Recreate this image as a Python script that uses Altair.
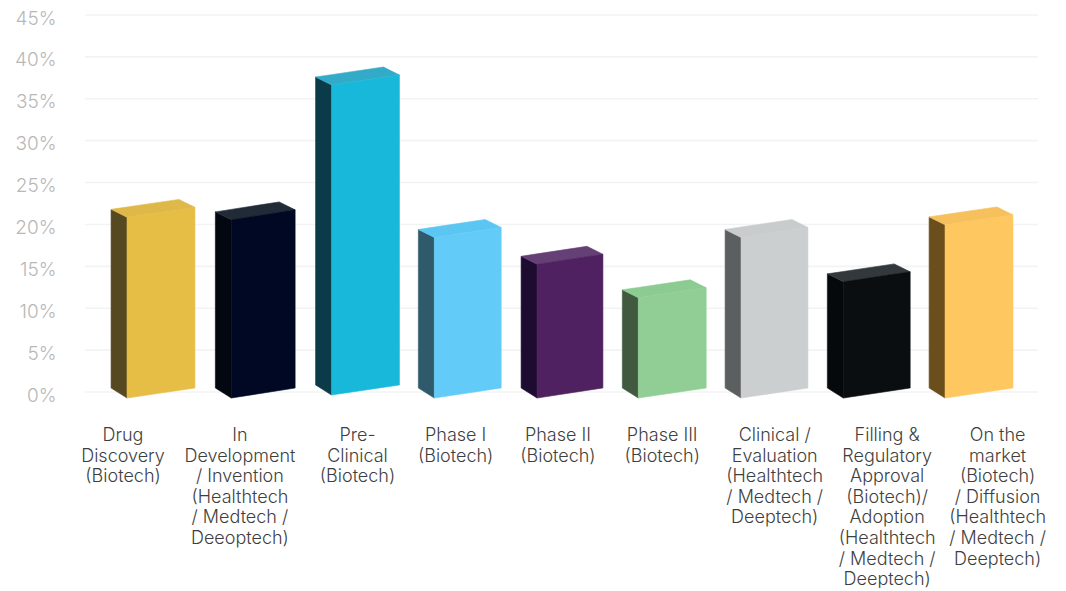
import altair as alt
import pandas as pd

# values (% at the top-left corner of each bar)
categories = [
    "Drug\nDiscovery\n(Biotech)",
    "In\nDevelopment\n/ Invention\n(Healthtech\n/ Medtech /\nDeeoptech)",
    "Pre-\nClinical\n(Biotech)",
    "Phase I\n(Biotech)",
    "Phase II\n(Biotech)",
    "Phase III\n(Biotech)",
    "Clinical /\nEvaluation\n(Healthtech\n/ Medtech /\nDeeptech)",
    "Filling &\nRegulatory\nApproval\n(Biotech)/\nAdoption\n(Healthtech\n/ Medtech /\nDeeptech)",
    "On the\nmarket\n(Biotech)\n/ Diffusion\n(Healthtech\n/ Medtech /\nDeeptech)",
]
values = [21.8, 21.5, 37.6, 19.4, 16.2, 12.2, 19.4, 14.1, 20.9]
feet = [0.48, 0.48, 0.84, 0.48, 0.48, 0.48, 0.48, 0.48, 0.48]
widths = [0.82, 0.78, 0.82, 0.81, 0.80, 0.82, 0.81, 0.81, 0.82]
front_colors = ["#E6BE46", "#010823", "#17B8D9", "#63CBF7", "#4F2160", "#90CE96", "#CBCFD0", "#0A0E10", "#FEC75F"]
side_colors = ["#564820", "#03070F", "#0B3B49", "#2E5A6C", "#1D0B30", "#40593F", "#5B5F60", "#06090B", "#6A4F1C"]
top_colors = ["#DFB84A", "#212B38", "#33ABC8", "#5CC6F3", "#654076", "#8CCB92", "#C8CCCD", "#32383B", "#F6C05C"]
label_slots = [-0.293, 0.85, 2.0, 2.96, 3.96, 4.98, 6.08, 7.18, 8.26]
y_ticks = [0, 5, 10, 15, 20, 25, 30, 35, 40, 45]

# oblique projection of the bars, in axis units
DEPTH_X = 0.156
DROP_FRONT = 0.95
RISE_RIGHT = 0.24
RISE_BACK = 1.19
FOOT_DROP = 1.2

side_rows, front_rows, top_rows = [], [], []
for i, v in enumerate(values):
    w = widths[i]
    x0 = i - w / 2
    x1 = x0 + DEPTH_X
    x3 = i + w / 2
    x2 = x3 - DEPTH_X
    foot = feet[i]
    front_left_top = v - DROP_FRONT
    right_top = v + RISE_RIGHT
    back_top = v + RISE_BACK

    side_rows += [
        dict(bar=i, c=side_colors[i], x=x0, y=v, y2=foot),
        dict(bar=i, c=side_colors[i], x=x1, y=front_left_top, y2=foot - FOOT_DROP),
    ]
    front_rows += [
        dict(bar=i, c=front_colors[i], x=x1, y=front_left_top, y2=foot - FOOT_DROP),
        dict(bar=i, c=front_colors[i], x=x3, y=right_top, y2=foot),
    ]
    upper = lambda x: v + (back_top - v) * (x - x0) / (x2 - x0)
    lower = lambda x: front_left_top + (right_top - front_left_top) * (x - x1) / (x3 - x1)
    top_rows += [
        dict(bar=i, c=top_colors[i], x=x0, y=v, y2=v),
        dict(bar=i, c=top_colors[i], x=x1, y=upper(x1), y2=front_left_top),
        dict(bar=i, c=top_colors[i], x=x2, y=back_top, y2=lower(x2)),
        dict(bar=i, c=top_colors[i], x=x3, y=right_top, y2=right_top),
    ]

x_scale = alt.Scale(domain=[-0.665, 8.655], nice=False, zero=False)
y_scale = alt.Scale(domain=[0, 45], nice=False)


def faces(rows):
    return alt.Chart(pd.DataFrame(rows)).mark_area(
        interpolate="linear", opacity=1, strokeWidth=0.6, strokeJoin="round"
    ).encode(
        x=alt.X("x:Q", scale=x_scale, axis=None),
        y=alt.Y("y:Q", scale=y_scale, stack=None, title=None),
        y2="y2:Q",
        color=alt.Color("c:N", scale=None, legend=None),
        stroke=alt.Stroke("c:N", scale=None, legend=None),
        detail="bar:N",
    )


grid = alt.Chart(pd.DataFrame({"t": y_ticks})).mark_rule(color="#F2F4F4", strokeWidth=1.6).encode(
    y=alt.Y(
        "t:Q",
        scale=y_scale,
        title=None,
        axis=alt.Axis(
            values=y_ticks,
            grid=False,
            domain=False,
            ticks=False,
            labelExpr="datum.value + '%'",
            labelFont="Inter",
            labelFontWeight=300,
            labelFontSize=19,
            labelColor="#B8B8B8",
            labelPadding=29,
            labelOffset=3,
        ),
    ),
)

labels = alt.Chart(pd.DataFrame({"slot": label_slots, "text": categories})).mark_text(
    baseline="top",
    align="center",
    lineBreak="\n",
    lineHeight=20.6,
    font="Inter",
    fontWeight=300,
    fontSize=18,
    color="#3F3F3F",
).encode(
    x=alt.X("slot:Q", scale=x_scale, axis=None),
    y=alt.value(412),
    text="text:N",
)

chart = alt.layer(grid, faces(side_rows), faces(top_rows), faces(front_rows), labels).properties(
    width=953,
    height=377,
    padding={"left": 77, "top": 7, "right": 12, "bottom": 196},
    autosize=alt.AutoSizeParams(type="none"),
    background="white",
).configure_view(stroke=None)

chart.save("out.html", embed_options={"renderer": "svg", "actions": False})
